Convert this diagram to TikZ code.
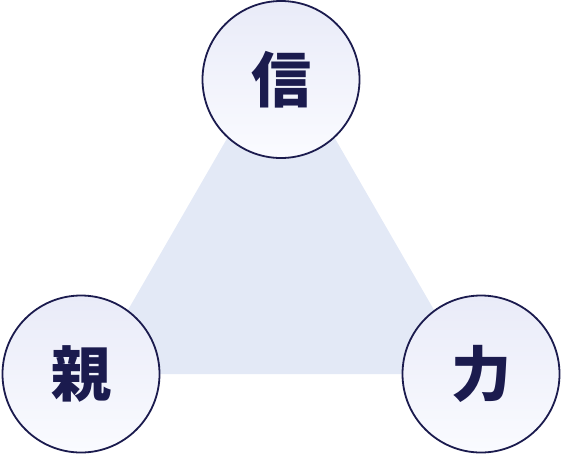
\documentclass[tikz,border=0pt]{standalone}
\usepackage{fontspec}
\newfontfamily\cjk{Noto Sans CJK JP}
\definecolor{navy}{HTML}{1B1B4E}
\definecolor{trifill}{HTML}{E3E9F6}
\definecolor{circtop}{HTML}{E9EBF8}
\definecolor{circbot}{HTML}{FAFBFF}
\tikzset{
  bubble/.style={circle, draw=navy, line width=1.8pt, minimum size=157pt, inner sep=0pt,
    top color=circtop, bottom color=circbot, text=navy,
    font=\cjk\bfseries\fontsize{60pt}{60pt}\selectfont},
}
\begin{document}
\begin{tikzpicture}[x=1pt,y=-1pt]
\useasboundingbox (0,0) rectangle (562,456);
\coordinate (ta) at (281,45);
\coordinate (tb) at (91,374);
\coordinate (tc) at (471,374);
\fill[trifill] (ta) -- (tb) -- (tc) -- cycle;
\node[bubble] (shin) at (281,79.5) {信};
\node[bubble] (shitashi) at (81,374) {親};
\node[bubble] (chikara) at (481,374) {力};
\end{tikzpicture}
\end{document}
